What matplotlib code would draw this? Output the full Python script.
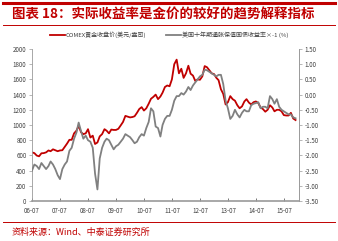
import pandas as pd
import matplotlib
matplotlib.use("Agg")
import matplotlib.pyplot as plt
import matplotlib.dates as mdates
from matplotlib.lines import Line2D

plt.rcParams['font.family'] = ['Noto Sans CJK SC', 'DejaVu Sans']

TITLE = "图表 18：实际收益率是金价的较好的趋势解释指标"
SOURCE = "资料来源：Wind、中泰证券研究所"
GOLD_LABEL = "COMEX黄金收盘价(美元/盎司)"
TIPS_LABEL = "美国十年期通胀保值国债收益率×-1 (%)"

START = "2006-07-01"

# COMEX gold close, monthly, USD/oz (2006-07 .. 2015-12)
gold_2006 = [640, 630, 598, 588, 628, 630]
gold_2007 = [640, 665, 655, 680, 668, 655, 665, 668, 712, 755, 805, 805]
gold_2008 = [890, 925, 990, 905, 880, 890, 945, 835, 860, 750, 770, 850]
gold_2009 = [880, 945, 925, 890, 940, 935, 935, 950, 995, 1040, 1120, 1110]
gold_2010 = [1100, 1105, 1115, 1160, 1210, 1235, 1190, 1220, 1280, 1345, 1370, 1400]
gold_2011 = [1340, 1375, 1425, 1500, 1520, 1510, 1600, 1800, 1860, 1680, 1740, 1620]
gold_2012 = [1680, 1780, 1675, 1650, 1580, 1600, 1595, 1640, 1775, 1760, 1720, 1680]
gold_2013 = [1670, 1620, 1590, 1470, 1410, 1270, 1300, 1380, 1340, 1320, 1260, 1220]
gold_2014 = [1245, 1310, 1340, 1295, 1270, 1300, 1310, 1290, 1230, 1210, 1175, 1200]
gold_2015 = [1260, 1230, 1180, 1200, 1200, 1180, 1130, 1125, 1125, 1160, 1085, 1065]

# US 10y TIPS yield x -1, monthly, %
tips_2006 = [-2.50, -2.30, -2.35, -2.45, -2.25, -2.35]
tips_2007 = [-2.45, -2.35, -2.20, -2.30, -2.45, -2.65, -2.78, -2.45, -2.30, -2.20, -1.85, -1.75]
tips_2008 = [-1.45, -1.25, -0.92, -1.20, -1.45, -1.35, -1.50, -1.55, -1.75, -2.60, -3.12, -2.10]
tips_2009 = [-1.75, -1.55, -1.45, -1.50, -1.65, -1.80, -1.70, -1.65, -1.55, -1.45, -1.30, -1.35]
tips_2010 = [-1.40, -1.50, -1.60, -1.55, -1.40, -1.30, -1.35, -1.10, -0.90, -0.45, -0.55, -1.05]
tips_2011 = [-1.10, -1.38, -1.00, -0.80, -0.70, -0.70, -0.50, -0.20, -0.05, -0.05, 0.05, 0.00]
tips_2012 = [0.10, 0.25, 0.15, 0.30, 0.40, 0.50, 0.60, 0.65, 0.82, 0.80, 0.75, 0.70]
tips_2013 = [0.65, 0.60, 0.65, 0.65, 0.35, -0.20, -0.45, -0.80, -0.70, -0.50, -0.65, -0.75]
tips_2014 = [-0.60, -0.50, -0.55, -0.55, -0.35, -0.30, -0.28, -0.25, -0.45, -0.40, -0.40, -0.45]
tips_2015 = [-0.05, -0.15, -0.30, -0.15, -0.40, -0.50, -0.55, -0.60, -0.65, -0.65, -0.75, -0.78]

gold = (gold_2006 + gold_2007 + gold_2008 + gold_2009 + gold_2010 + gold_2011
        + gold_2012 + gold_2013 + gold_2014 + gold_2015)
tips = (tips_2006 + tips_2007 + tips_2008 + tips_2009 + tips_2010 + tips_2011
        + tips_2012 + tips_2013 + tips_2014 + tips_2015)
dates = pd.date_range(START, periods=len(gold), freq="MS")

RED = "#C00000"
GRAY = "#808080"
TXT = "#404040"

fig = plt.figure(figsize=(3.38, 2.41), dpi=100)
ax = fig.add_axes([32 / 338, 1 - 201 / 241, (299 - 32) / 338, (201 - 49) / 241])
ax2 = ax.twinx()

l1, = ax.plot(dates, gold, color=RED, lw=1.3)
l2, = ax2.plot(dates, tips, color=GRAY, lw=1.3)

ax.set_ylim(0, 2000)
ax.set_yticks(range(0, 2001, 200))
ax2.set_ylim(-3.5, 1.5)
ax2.set_yticks([x / 2 for x in range(-7, 4)])
ax2.yaxis.set_major_formatter(plt.FuncFormatter(lambda v, p: f"{v:.2f}"))

ax.set_xlim(pd.Timestamp("2006-07-01"), pd.Timestamp("2016-01-15"))
ax.xaxis.set_major_locator(mdates.MonthLocator(bymonth=7))
ax.xaxis.set_major_formatter(mdates.DateFormatter("%y-%m"))

for a in (ax, ax2):
    a.spines['top'].set_visible(False)
    for s in ('left', 'right', 'bottom'):
        a.spines[s].set_color("#9a9a9a")
        a.spines[s].set_linewidth(0.6)
    a.tick_params(labelsize=4.5, colors=TXT, length=2, width=0.5, pad=2)
ax.spines['bottom'].set_linewidth(1.2)
ax.tick_params(axis='x', direction='in', length=2.5, pad=4)
ax.tick_params(axis='y', color="#9a9a9a")
ax2.tick_params(axis='y', color="#9a9a9a")
ax2.spines['left'].set_visible(False)
ax2.spines['bottom'].set_visible(False)

fig.legend([l1, l2], [GOLD_LABEL, TIPS_LABEL], loc="center", ncol=2,
           bbox_to_anchor=(0.5, 1 - 35 / 241), frameon=False,
           fontsize=4.3, handlelength=2.6, columnspacing=3.3,
           handletextpad=0.1, labelcolor=TXT)

# header / footer rules
fig.add_artist(Line2D([3 / 338, 335 / 338], [1 - 3 / 241] * 2, color=RED, lw=2.2))
fig.add_artist(Line2D([3 / 338, 335 / 338], [1 - 25 / 241] * 2, color=RED, lw=0.7))
fig.add_artist(Line2D([3 / 338, 335 / 338], [1 - 222 / 241] * 2, color=RED, lw=0.7))

fig.text(12 / 338, 1 - 14.5 / 241, TITLE, color=RED, fontsize=9.7,
         fontweight='bold', va='center', ha='left')
fig.text(12 / 338, 1 - 232 / 241, SOURCE, color=RED, fontsize=6.5,
         va='center', ha='left')

fig.savefig("out.png", dpi=100)
